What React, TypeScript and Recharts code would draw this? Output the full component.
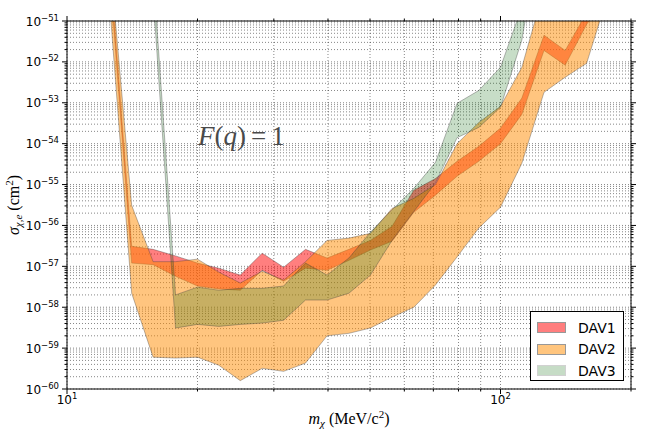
import React from "react"
import {
  ComposedChart,
  Area,
  XAxis,
  YAxis,
  CartesianGrid,
  ReferenceArea,
} from "recharts"

// dark matter mass grid (MeV/c^2)
const MASS = [12.6, 14.1, 15.8, 17.8, 20.0, 22.4, 25.1, 28.2, 31.6, 35.5, 39.8, 44.7, 50.1, 56.2, 63.1, 70.8, 79.4, 89.1, 100, 112, 126, 141, 158, 178]

// cross-section bands (cm^2)
const DAV1_LO = [7.5e-51, 1.2e-57, 1.1e-57, 5.7e-58, 3.3e-58, 2.8e-58, 2.6e-58, 8.0e-58, 4.3e-58, 9.0e-58, 8.0e-58, 1.4e-57, 2.5e-57, 4.1e-57, 2.1e-56, 5.5e-56, 1.6e-55, 3.7e-55, 1.0e-54, 5.2e-54, 1.9e-52, 8.3e-53, 8.3e-52, 4.2e-51]
const DAV1_HI = [1.5e-50, 3.1e-57, 2.6e-57, 1.8e-57, 1.2e-57, 9.0e-58, 6.1e-58, 2.1e-57, 9.5e-58, 2.6e-57, 1.6e-57, 2.6e-57, 4.3e-57, 9.5e-57, 7.3e-56, 1.4e-55, 3.7e-55, 8.6e-55, 2.4e-54, 1.3e-53, 4.5e-52, 1.9e-52, 1.6e-51, 9.9e-51]

const DAV2_LO = [1.4e-51, 2.2e-58, 6.0e-60, 5.7e-60, 6.0e-60, 3.8e-60, 1.6e-60, 3.2e-60, 2.7e-60, 4.3e-60, 2.0e-59, 2.3e-59, 3.1e-59, 5.7e-59, 1.0e-58, 3.5e-58, 1.7e-57, 8.6e-57, 2.8e-56, 3.3e-55, 1.8e-53, 4.2e-53, 9.2e-53, 5.3e-51]
const DAV2_HI = [2.3e-50, 3.1e-56, 1.3e-57, 1.3e-57, 1.5e-57, 7.2e-58, 3.9e-58, 7.6e-58, 4.6e-58, 1.3e-57, 4.3e-57, 4.9e-57, 6.4e-57, 2.6e-56, 4.6e-56, 1.0e-55, 1.0e-54, 3.3e-54, 8.2e-54, 7.4e-53, 6.0e-51, 9.4e-50, 8.9e-49, 8.5e-48]

const DAV3_LO = [null, null, 4.1e-51, 3.1e-59, 3.8e-59, 3.4e-59, 3.8e-59, 4.1e-59, 4.8e-59, 1.5e-58, 1.5e-58, 2.2e-58, 6.1e-58, 4.3e-57, 2.2e-56, 1.1e-55, 1.4e-54, 2.5e-54, 7.8e-54, 3.4e-52, 5.1e-49, null, null, null]
const DAV3_HI = [null, null, 1.6e-50, 2.0e-58, 3.1e-58, 2.6e-58, 2.9e-58, 2.9e-58, 3.3e-58, 1.2e-57, 6.1e-58, 1.6e-57, 6.8e-57, 2.4e-56, 8.1e-56, 3.5e-55, 9.7e-54, 2.0e-53, 7.4e-53, 2.2e-51, 8.9e-49, null, null, null]

// axis ticks
const X_TICKS = [10, 20, 30, 40, 50, 60, 70, 80, 90, 100, 200]
const Y_DECADES = [-60, -59, -58, -57, -56, -55, -54, -53, -52, -51]
const Y_MINOR = [2, 3, 4, 5, 6, 7, 8, 9]

const SERIES = [
  { key: "dav1", label: "DAV1", fill: "#ff0000", opacity: 0.5 },
  { key: "dav2", label: "DAV2", fill: "#ff8c00", opacity: 0.5 },
  { key: "dav3", label: "DAV3", fill: "#006400", opacity: 0.22 },
]

const W = 664
const H = 432
const PLOT = { left: 67, right: 631, top: 21, bottom: 389 }

const yTicks: number[] = []
Y_DECADES.forEach((e, i) => {
  yTicks.push(Math.pow(10, e))
  if (i < Y_DECADES.length - 1) Y_MINOR.forEach((m) => yTicks.push(m * Math.pow(10, e)))
})

const data = MASS.map((m, i) => ({
  m,
  dav1: [DAV1_LO[i], DAV1_HI[i]],
  dav2: [DAV2_LO[i], DAV2_HI[i]],
  dav3: DAV3_LO[i] == null ? null : [DAV3_LO[i], DAV3_HI[i]],
}))

const isDecade = (v: number) => {
  const e = Math.log10(v)
  return Math.abs(e - Math.round(e)) < 1e-6
}

const tickFont = "'DejaVu Sans', sans-serif"
const mathFont = "'Liberation Serif', 'DejaVu Serif', serif"

function XTick(props: any) {
  const { x, payload } = props
  const major = isDecade(payload.value)
  const len = major ? 5 : 2.5
  return (
    <g>
      <line x1={x} x2={x} y1={PLOT.bottom} y2={PLOT.bottom + len} stroke="#000" strokeWidth={1} />
      <line x1={x} x2={x} y1={PLOT.top} y2={PLOT.top - len} stroke="#000" strokeWidth={1} />
      {major && (
        <text x={x} y={404} textAnchor="middle" fontFamily={tickFont} fontSize={12} fill="#000">
          10<tspan dy={-5} fontSize={8.5}>{Math.round(Math.log10(payload.value))}</tspan>
        </text>
      )}
    </g>
  )
}

function YTick(props: any) {
  const { y, payload } = props
  const major = isDecade(payload.value)
  const len = major ? 5 : 2.5
  const e = Math.round(Math.log10(payload.value))
  return (
    <g>
      <line x1={PLOT.left - len} x2={PLOT.left} y1={y} y2={y} stroke="#000" strokeWidth={1} />
      <line x1={PLOT.right} x2={PLOT.right + len} y1={y} y2={y} stroke="#000" strokeWidth={1} />
      {major && (
        <text x={59} y={y + 4.5} textAnchor="end" fontFamily={tickFont} fontSize={12} fill="#000">
          10<tspan dy={-5} fontSize={8.5}>{"\u2212" + Math.abs(e)}</tspan>
        </text>
      )}
    </g>
  )
}

export default function App() {
  return (
    <div style={{ position: "absolute", left: 0, top: 0, width: W, height: H, background: "#fff" }}>
      <ComposedChart
        width={W}
        height={H}
        data={data}
        margin={{ top: PLOT.top, right: W - PLOT.right, bottom: 0, left: 0 }}
      >
        <CartesianGrid
          stroke="#000"
          strokeWidth={0.6}
          strokeOpacity={0.8}
          strokeDasharray="1 2"
        />
        <XAxis
          dataKey="m"
          type="number"
          scale="log"
          domain={[10, 200]}
          ticks={X_TICKS}
          interval={0}
          allowDataOverflow
          height={H - PLOT.bottom}
          axisLine={false}
          tickLine={false}
          tick={<XTick />}
        />
        <YAxis
          type="number"
          scale="log"
          domain={[1e-60, 1e-51]}
          ticks={yTicks}
          interval={0}
          allowDataOverflow
          width={PLOT.left}
          axisLine={false}
          tickLine={false}
          tick={<YTick />}
        />
        {SERIES.map((s) => (
          <Area
            key={s.key}
            dataKey={s.key}
            type="linear"
            fill={s.fill}
            fillOpacity={s.opacity}
            stroke="#3a3a3a"
            strokeOpacity={0.45}
            strokeWidth={0.8}
            isAnimationActive={false}
            dot={false}
            activeDot={false}
          />
        ))}
        <ReferenceArea
          x1={10}
          x2={200}
          y1={1e-60}
          y2={1e-51}
          fill="none"
          fillOpacity={0}
          stroke="#000"
          strokeWidth={1}
          strokeOpacity={1}
        />
      </ComposedChart>

      <svg
        width={W}
        height={H}
        style={{ position: "absolute", left: 0, top: 0, pointerEvents: "none" }}
      >
        <text x={198} y={145} fontFamily={mathFont} fontSize={27} fill="#4a4a4a">
          <tspan fontStyle="italic">F</tspan>(<tspan fontStyle="italic">q</tspan>)
          <tspan dx={5}>=</tspan>
          <tspan dx={5}>1</tspan>
        </text>
        <text x={349} y={424} textAnchor="middle" fontFamily={mathFont} fontSize={16} fill="#000">
          <tspan fontStyle="italic">m</tspan>
          <tspan fontStyle="italic" fontSize={11} dy={3}>χ</tspan>
          <tspan dy={-3}> (MeV/c</tspan>
          <tspan fontSize={11} dy={-6}>2</tspan>
          <tspan dy={6}>)</tspan>
        </text>
        <text
          x={0}
          y={0}
          transform="translate(19,205) rotate(-90)"
          textAnchor="middle"
          fontFamily={mathFont}
          fontSize={16}
          fill="#000"
        >
          <tspan fontStyle="italic">σ</tspan>
          <tspan fontStyle="italic" fontSize={11} dy={3}>χ,e</tspan>
          <tspan dy={-3}> (cm</tspan>
          <tspan fontSize={11} dy={-6}>2</tspan>
          <tspan dy={6}>)</tspan>
        </text>
      </svg>

      <div
        style={{
          position: "absolute",
          left: 530,
          top: 311,
          width: 94,
          height: 70,
          boxSizing: "border-box",
          border: "1px solid #000",
          background: "#fff",
          fontFamily: tickFont,
          fontSize: 14,
          padding: "5px 0 0 6px",
        }}
      >
        {SERIES.map((s) => (
          <div key={s.key} style={{ display: "flex", alignItems: "center", height: 21.5 }}>
            <div
              style={{
                width: 29,
                height: 11,
                boxSizing: "border-box",
                background: s.fill,
                opacity: s.opacity + 0.001,
                border: "1px solid #333",
              }}
            />
            <span style={{ marginLeft: 12, lineHeight: "14px" }}>{s.label}</span>
          </div>
        ))}
      </div>
    </div>
  )
}
